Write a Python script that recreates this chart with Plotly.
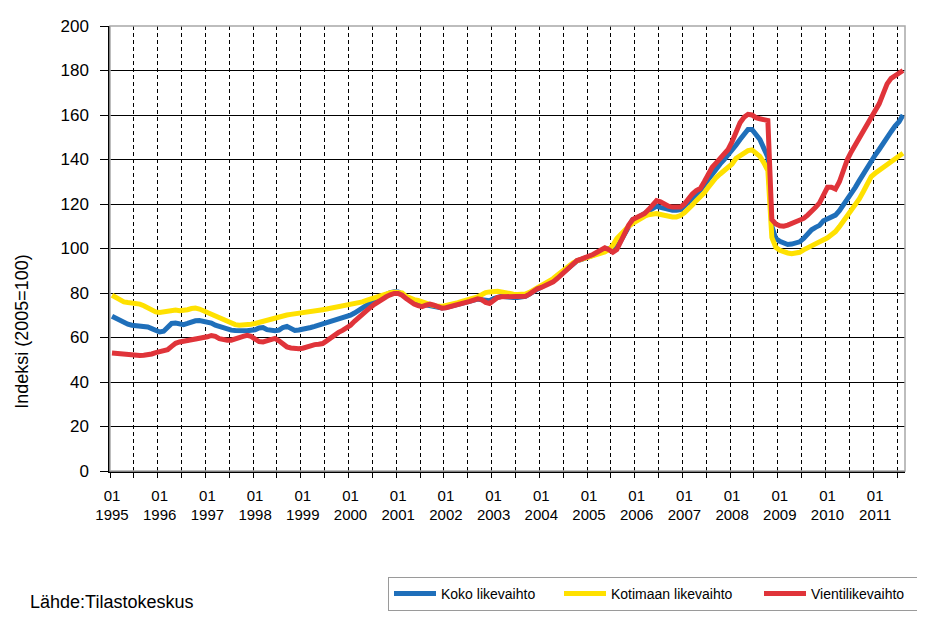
import plotly.graph_objects as go

# Monthly index values, Jan 1995 - Aug 2011 (2005=100)
start_year = 1995
n_months = 200

koko = [
    69.5, 68.5, 67.5, 66.5, 66.0, 65.5, 65.3, 65.2, 65.0, 64.7, 64.0, 63.3,
    62.5, 62.8, 64.5, 66.3, 66.5, 66.0, 65.8, 66.3, 67.0, 67.5, 67.6, 67.3,
    67.2, 66.5, 65.5, 64.9, 64.2, 63.5, 63.3, 63.1, 63.0, 62.9, 63.0, 63.3,
    63.5, 64.3, 64.5, 63.5, 63.0, 63.0, 63.3, 64.5, 65.0, 64.0, 63.2, 63.4,
    63.6, 64.0, 64.5, 65.0, 65.5, 65.9, 66.5, 67.1, 67.7, 68.3, 68.9, 69.4,
    70.0, 71.0, 72.0, 73.2, 74.4, 75.6, 76.8, 77.8, 78.7, 79.5, 80.2, 80.6,
    80.5, 79.5, 78.2, 77.0, 76.0, 75.3, 75.0, 74.8, 74.5, 74.0, 73.5, 73.3,
    73.5, 74.0, 74.5, 75.0, 75.5, 75.8, 76.2, 76.8, 77.3, 77.0, 76.5, 76.5,
    77.5, 78.3, 78.5, 78.3, 78.0, 78.0, 78.0, 78.2, 78.5, 79.5, 80.5, 81.5,
    82.5, 83.5, 84.5, 85.5, 87.0, 88.5, 90.0, 91.5, 93.0, 94.5, 95.0, 95.5,
    96.0, 97.0, 97.8, 98.5, 99.5, 100.0, 99.8, 100.5, 103.5, 107.0, 110.5, 113.0,
    113.5, 114.5, 115.5, 116.5, 118.0, 119.0, 118.5, 118.0, 117.5, 117.2, 117.2, 117.5,
    119.0, 121.0, 122.5, 124.0, 126.0, 128.5, 131.0, 133.5, 136.0, 138.0, 140.0, 142.0,
    144.0, 146.5, 149.0, 151.5, 153.5, 153.5, 151.0, 149.0, 145.0, 141.0, 110.0, 104.5,
    103.2, 102.5, 101.8, 102.0, 102.4, 103.0, 104.5, 106.5, 108.4, 109.5, 110.4, 112.5,
    113.5, 114.5, 115.0, 117.0, 119.5, 122.0, 125.0, 127.5, 130.5, 133.5, 137.0, 140.0,
    142.0, 144.5, 147.5, 150.0, 152.5, 155.0, 157.0, 160.0,
]

kotimaan = [
    79.0, 78.0, 77.0, 76.0, 75.7, 75.5, 75.3, 75.0, 74.3, 73.3, 72.3, 71.5,
    71.2, 71.5, 72.0, 72.5, 72.3, 72.0, 72.0, 72.5, 73.0, 73.2, 72.8, 72.0,
    71.5, 70.8, 70.0, 69.3, 68.3, 67.3, 66.5, 65.8, 65.5, 65.5, 65.7, 66.0,
    66.3, 66.8, 67.3, 68.0, 68.5, 69.0, 69.4, 69.8, 70.1, 70.4, 70.6, 70.9,
    71.1, 71.4, 71.7, 72.0, 72.3, 72.5, 72.8, 73.1, 73.4, 73.7, 74.0, 74.3,
    74.6, 75.0, 75.5, 76.0, 76.7, 77.3, 78.0, 78.6, 79.2, 79.7, 80.1, 80.3,
    80.3, 80.0, 78.5, 77.5, 77.0, 76.7, 76.3, 75.5, 74.8, 74.3, 74.0, 74.0,
    74.3, 74.7, 75.2, 75.7, 76.2, 76.6, 77.0, 77.5, 78.3, 79.2, 80.2, 80.5,
    80.8, 80.8, 80.5, 80.0, 79.7, 79.5, 79.3, 79.3, 79.5, 80.3, 81.3, 82.5,
    83.5, 84.5, 85.5, 86.5, 88.0, 89.5, 91.0, 92.5, 93.5, 94.5, 95.0, 95.5,
    96.0, 96.5, 97.0, 97.5, 98.5, 99.5, 101.5, 104.5, 106.5, 108.5, 110.0, 111.3,
    112.5, 113.5, 114.5, 115.2, 115.7, 115.7, 115.3, 114.8, 114.4, 114.2, 114.2, 114.8,
    116.0, 117.5, 119.5, 121.5, 123.0, 125.0, 127.5, 130.0, 131.9, 133.5, 135.0, 136.5,
    138.0, 140.5, 141.8, 143.0, 144.0, 144.3, 143.0, 141.4, 138.5, 135.0, 105.0, 100.5,
    99.2, 98.5, 98.0, 97.7, 97.8, 98.3, 99.4, 100.3, 101.2, 102.0, 102.8, 103.7,
    104.8, 106.2, 107.6, 109.8, 112.2, 114.3, 116.8, 119.5, 122.3, 125.5, 129.0, 132.3,
    133.8, 135.2, 136.5, 137.5, 138.7, 140.2, 141.6, 142.8,
]

vienti = [
    53.0, 52.8, 52.5, 52.2, 52.0, 51.8, 51.8, 51.9, 52.0, 52.2, 52.6, 53.2,
    53.5, 53.8, 54.5, 56.0, 57.4, 58.0, 58.3, 58.5, 58.7, 59.0, 59.3, 59.7,
    60.3, 60.9, 60.5, 59.5, 59.0, 58.8, 58.8, 59.2, 59.8, 60.5, 61.0, 60.5,
    59.3, 58.2, 58.0, 58.5, 59.2, 59.6, 58.5, 57.0, 55.8, 55.3, 55.0, 55.0,
    55.2, 55.8, 56.4, 56.8, 57.0, 57.3, 58.5, 60.0, 61.4, 62.3, 63.2, 64.2,
    65.5, 67.3, 69.0, 70.5, 72.0, 73.5, 74.9, 76.2, 77.3, 78.3, 79.2, 79.8,
    79.8, 79.0, 77.5, 76.0, 75.0, 74.3, 73.9, 74.5, 75.0, 74.5, 73.6, 73.2,
    73.4, 73.8, 74.3, 74.7, 75.1, 75.6, 76.2, 76.8, 77.4, 77.0, 75.8, 75.3,
    76.5, 78.0, 78.3, 78.3, 78.3, 78.3, 78.3, 78.3, 78.5, 79.5, 80.8, 81.9,
    82.5, 83.3, 84.2, 85.0, 86.5, 88.2, 89.8, 91.5, 93.2, 94.6, 95.2, 95.8,
    96.5, 97.3, 98.3, 99.5, 100.3, 99.5, 98.3, 99.5, 103.5, 107.0, 110.5, 113.0,
    114.0, 114.8, 115.7, 117.5, 119.8, 121.5, 121.0, 119.8, 119.0, 118.6, 118.5, 118.6,
    120.0, 122.5, 124.5, 126.0, 127.0, 130.0, 133.5, 136.5, 138.5, 140.5, 142.0, 144.5,
    148.0, 152.5, 156.5, 159.0, 160.3, 160.0, 158.8, 158.3, 158.0, 157.5, 113.0, 111.0,
    110.2, 110.0, 110.5, 111.2, 112.0, 112.5, 113.5, 115.0, 116.4, 118.5, 120.5, 123.5,
    127.5, 127.5, 126.7, 130.0, 135.5, 140.0, 143.5, 146.5, 150.0, 152.5, 155.5, 159.0,
    161.5, 165.0, 169.5, 174.0, 176.5, 177.5, 178.5, 180.0,
]

series_names = ["Koko likevaihto", "Kotimaan likevaihto", "Vientilikevaihto"]
series_colors = ["#1f6fba", "#ffe100", "#e0343a"]
legend_widths = [113, 143, 110]

tick_years = list(range(1995, 2012))
tick_labels = [f"01<br>{y}" for y in tick_years]
y_ticks = list(range(0, 201, 20))

x = list(range(n_months))
tick_positions = [(y - start_year) * 12 for y in tick_years]

FONT = "Liberation Sans, Arial, sans-serif"

# the page body has an 8px default margin, so the figure is 8px smaller
W, H = 917, 615
OFF = 8

fig = go.Figure()
for name, vals, col, lw in zip(series_names, [koko, kotimaan, vienti],
                               series_colors, legend_widths):
    fig.add_trace(go.Scatter(x=x, y=vals, mode="lines", name=name,
                             line=dict(color=col, width=5), legendwidth=lw))

fig.update_layout(
    width=W, height=H, autosize=False,
    margin=dict(l=110 - OFF, r=20, t=17 - OFF, b=152),
    paper_bgcolor="white", plot_bgcolor="white",
    font=dict(family=FONT, color="#000000", size=15),
    showlegend=True,
    legend=dict(orientation="h", xref="container", yref="container",
                x=(388 - OFF) / W, y=1 - (577 - OFF) / H,
                xanchor="left", yanchor="top",
                bordercolor="#9a9a9a", borderwidth=1, bgcolor="white",
                font=dict(size=14, family=FONT), itemwidth=42),
)

fig.update_xaxes(
    range=[-0.5, n_months - 0.5],
    tickmode="array", tickvals=tick_positions, ticktext=tick_labels,
    showgrid=False, zeroline=False,
    showline=True, linecolor="black", linewidth=1.5,
    ticks="outside", ticklen=10, tickcolor="rgba(0,0,0,0)",
    tickfont=dict(size=15, family=FONT),
    minor=dict(tick0=-0.5, dtick=6, showgrid=True, gridcolor="black",
               gridwidth=1.3, griddash="4px,3px", ticks="outside",
               ticklen=5, tickcolor="black", tickwidth=1),
)

fig.update_yaxes(
    range=[0, 200], tickmode="array", tickvals=y_ticks,
    showgrid=True, gridcolor="black", gridwidth=1.3,
    zeroline=False, showline=True, linecolor="black", linewidth=1.5,
    ticks="outside", ticklen=8, tickcolor="black",
    ticklabelstandoff=8, ticklabeloverflow="allow",
    tickfont=dict(size=17, family=FONT),
)

# plot-area border (top/right, grey)
fig.add_shape(type="rect", xref="paper", yref="paper", x0=0, x1=1, y0=0, y1=1,
              line=dict(color="#a8a8a8", width=1.5), layer="above")

fig.add_annotation(text="Indeksi (2005=100)", xref="paper", yref="paper",
                   x=(22 - 110) / 795, y=(471 - 329) / 454, textangle=-90,
                   showarrow=False, font=dict(size=18, family=FONT),
                   xanchor="center", yanchor="middle")

fig.add_annotation(text="Lähde:Tilastokeskus", xref="paper", yref="paper",
                   x=(28 - 110) / 795, y=(471 - 605) / 454,
                   showarrow=False, font=dict(size=18, family=FONT),
                   xanchor="left", yanchor="middle")

fig.write_html("out.html")
